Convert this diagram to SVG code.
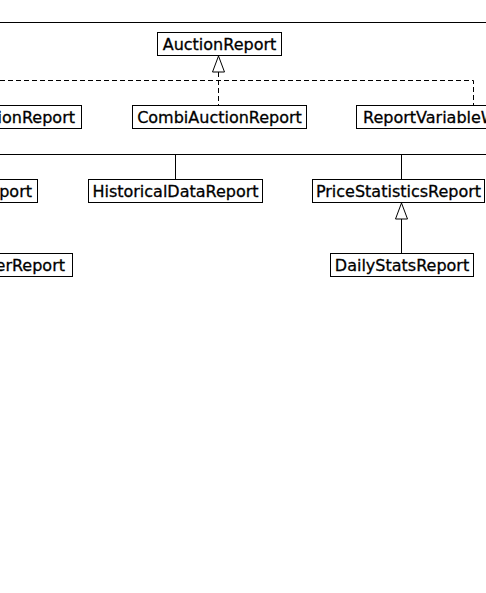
<svg xmlns="http://www.w3.org/2000/svg" width="486" height="593" viewBox="0 0 486 593">
<style>
.box{fill:#fff;stroke:#000;stroke-width:1}
.t{font-family:"DejaVu Sans",sans-serif;font-size:16px;fill:#000;stroke:#000;stroke-width:0.3}
.m{text-anchor:middle}
.e{text-anchor:end}
.ln{fill:none;stroke:#000;stroke-width:1}
.dash{fill:none;stroke:#000;stroke-width:1;stroke-dasharray:5,3}
.head{fill:#fff;stroke:#000;stroke-width:1}
</style>
<rect width="486" height="593" fill="#fff"/>
<g id="connectors">
<path class="ln" d="M0 22.5H486"/>
<path class="dash" d="M218.5 72V105"/>
<path class="dash" d="M0 80.5H473.5V105"/>
<polygon class="head" points="218.5,56 212.5,72 224.5,72"/>
<path class="ln" d="M0 154.5H486M175.5 154.5V179M401.5 154.5V179"/>
<path class="ln" d="M401.5 219V253"/>
<polygon class="head" points="401.5,203 395.5,219 407.5,219"/>
</g>
<g id="AuctionReport"><rect class="box" x="157.5" y="32.5" width="124" height="23"/><text class="t m" x="219.5" y="49.5">AuctionReport</text></g>
<g id="ionReport"><rect class="box" x="-10.5" y="105.5" width="92" height="23"/><text class="t e" x="75" y="122.5">ionReport</text></g>
<g id="CombiAuctionReport"><rect class="box" x="132.5" y="105.5" width="174" height="23"/><text class="t m" x="219.5" y="122.5">CombiAuctionReport</text></g>
<g id="ReportVariableW"><rect class="box" x="356.5" y="105.5" width="240" height="23"/><text class="t" x="363" y="122.5">ReportVariableW</text></g>
<g id="port"><rect class="box" x="-10.5" y="179.5" width="48" height="23"/><text class="t e" x="32" y="196.5">port</text></g>
<g id="HistoricalDataReport"><rect class="box" x="88.5" y="179.5" width="174" height="23"/><text class="t m" x="175.5" y="196.5">HistoricalDataReport</text></g>
<g id="PriceStatisticsReport"><rect class="box" x="312.5" y="179.5" width="172" height="23"/><text class="t m" x="398.5" y="196.5">PriceStatisticsReport</text></g>
<g id="erReport"><rect class="box" x="-10.5" y="253.5" width="83" height="23"/><text class="t e" x="65" y="270.5">erReport</text></g>
<g id="DailyStatsReport"><rect class="box" x="330.5" y="253.5" width="143" height="23"/><text class="t m" x="402" y="270.5">DailyStatsReport</text></g>
</svg>
